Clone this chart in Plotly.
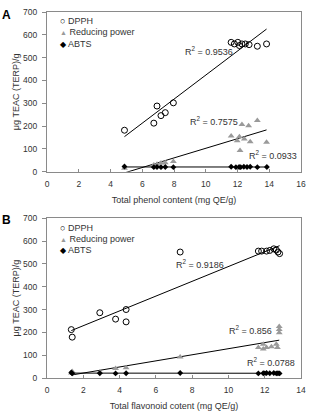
import numpy as np
import plotly.graph_objects as go

# ---------------- data ----------------
# Panel A: total phenol content (mg QE/g)
dpph_a_x = [4.88, 6.73, 6.93, 7.18, 7.45, 7.96, 11.6, 11.8, 12.02, 12.12, 12.28, 12.49, 12.73, 13.25, 13.83]
dpph_a_y = [182, 213, 288, 246, 259, 302, 567, 560, 567, 553, 560, 560, 557, 550, 560]
rp_a_x = [4.88, 6.73, 6.93, 7.18, 7.45, 7.96, 11.6, 11.98, 12.12, 12.16, 12.28, 12.43, 12.7, 12.8, 13.25, 13.83]
rp_a_y = [15, 30, 33, 38, 40, 45, 157, 136, 153, 93, 207, 143, 202, 131, 225, 129]
abts_a_x = [4.88, 6.73, 6.93, 7.18, 7.45, 7.96, 11.6, 11.9, 12.1, 12.2, 12.4, 12.6, 12.8, 13.25, 13.85]
abts_a_y = [23, 20, 21, 20, 21, 20, 22, 20, 21, 20, 22, 21, 22, 20, 21]
r2_a = ["0.9536", "0.7575", "0.0933"]

# Panel B: total flavonoid content (mg QE/g)
dpph_b_x = [1.34, 1.39, 2.91, 3.78, 4.36, 4.36, 7.34, 11.65, 11.83, 12.1, 12.28, 12.5, 12.64, 12.73, 12.82]
dpph_b_y = [212, 179, 286, 258, 300, 246, 552, 556, 556, 556, 559, 566, 561, 552, 545]
rp_b_x = [1.34, 1.39, 2.91, 3.78, 4.36, 7.34, 11.65, 11.92, 11.92, 12.1, 12.37, 12.64, 12.7, 12.8, 12.8, 12.8]
rp_b_y = [22, 28, 25, 42, 45, 92, 134, 148, 127, 134, 137, 148, 134, 226, 212, 198]
abts_b_x = [1.34, 1.39, 2.91, 3.78, 4.36, 7.34, 11.65, 11.92, 12.0, 12.1, 12.28, 12.5, 12.64, 12.73, 12.82]
abts_b_y = [24, 20, 21, 20, 21, 22, 20, 21, 20, 22, 21, 22, 20, 21, 20]
r2_b = ["0.9186", "0.856", "0.0788"]

series_names = ["DPPH", "Reducing power", "ABTS"]
x_title_a = "Total phenol content (mg QE/g)"
x_title_b = "Total flavonoid cotent (mg QE/g)"
y_title = "μg TEAC (TERP)/g"

# ---------------- styling ----------------
FONT = "Arial, Liberation Sans, sans-serif"
TXT = "#333333"
AX = "#8a8a8a"
styles = [
    dict(symbol="circle-open", color="black", size=6, line=dict(width=1, color="black")),
    dict(symbol="triangle-up", color="#9a9a9a", size=6),
    dict(symbol="diamond", color="black", size=4.5),
]

fig = go.Figure()

panels = [
    ("x", "y", [(dpph_a_x, dpph_a_y), (rp_a_x, rp_a_y), (abts_a_x, abts_a_y)]),
    ("x2", "y2", [(dpph_b_x, dpph_b_y), (rp_b_x, rp_b_y), (abts_b_x, abts_b_y)]),
]
for xa, ya, sers in panels:
    for (sx, sy), st, nm in zip(sers, styles, series_names):
        sx = np.array(sx, float)
        sy = np.array(sy, float)
        m, b = np.polyfit(sx, sy, 1)
        lx = np.array([sx.min(), sx.max()])
        fig.add_trace(go.Scatter(x=lx, y=m * lx + b, mode="lines",
                                 line=dict(color="black", width=1),
                                 xaxis=xa, yaxis=ya, showlegend=False, hoverinfo="skip"))
        fig.add_trace(go.Scatter(x=sx, y=sy, mode="markers", marker=st, name=nm,
                                 xaxis=xa, yaxis=ya, showlegend=False))

def ax_common():
    return dict(showline=True, linecolor=AX, linewidth=1, mirror=True,
                showgrid=False, zeroline=False,
                tickfont=dict(family=FONT, size=8.5, color=TXT),
                tickcolor=AX)

fig.update_layout(
    width=313, height=417,
    margin=dict(l=47, r=7, t=7, b=32),
    paper_bgcolor="white", plot_bgcolor="white",
    showlegend=False,
    font=dict(family=FONT, size=9, color=TXT),
    xaxis=dict(**ax_common(), domain=[0, 1], anchor="y", range=[0, 16], dtick=2,
               ticks="inside", ticklen=3, ticklabelstandoff=4,
               title=dict(text=x_title_a, font=dict(size=9, color=TXT), standoff=8)),
    yaxis=dict(**ax_common(), domain=[0.5635, 1], anchor="x", range=[0, 700], dtick=100,
               ticks="outside", ticklen=4, ticklabelstandoff=3,
               title=dict(text=y_title, font=dict(size=9, color=TXT), standoff=1)),
    xaxis2=dict(**ax_common(), domain=[0, 1], anchor="y2", range=[0, 14], dtick=2,
                ticks="inside", ticklen=3, ticklabelstandoff=4,
                title=dict(text=x_title_b, font=dict(size=9, color=TXT), standoff=8)),
    yaxis2=dict(**ax_common(), domain=[0, 0.4365], anchor="x2", range=[0, 700], dtick=100,
                ticks="outside", ticklen=4, ticklabelstandoff=3,
                title=dict(text=y_title, font=dict(size=9, color=TXT), standoff=1)),
)

ann = []
# panel letters
ann.append(dict(text="<b>A</b>", xref="paper", yref="paper", x=-0.16, y=0.992,
                xanchor="center", yanchor="middle", showarrow=False,
                font=dict(family=FONT, size=12, color="black")))
ann.append(dict(text="<b>B</b>", xref="paper", yref="paper", x=-0.16, y=0.431,
                xanchor="center", yanchor="middle", showarrow=False,
                font=dict(family=FONT, size=12, color="black")))

# legends (drawn as text)
leg_syms = ['<span style="color:black">○</span>',
            '<span style="color:#9a9a9a;font-size:7px">▲</span>',
            '<span style="color:black;font-size:8px">◆</span>']
for ys in ([0.976, 0.944, 0.913], [0.410, 0.381, 0.349]):
    for sym, nm, yy in zip(leg_syms, series_names, ys):
        ann.append(dict(text=sym + " " + nm, xref="paper", yref="paper", x=0.045, y=yy,
                        xanchor="left", yanchor="middle", showarrow=False,
                        font=dict(family=FONT, size=9, color=TXT)))

# R² labels
r2_pos_a = [(10.2, 530), (10.5, 221), (14.26, 72)]
r2_pos_b = [(8.45, 500), (11.23, 212), (12.37, 72)]
for xa, ya, labels, pos in (("x", "y", r2_a, r2_pos_a), ("x2", "y2", r2_b, r2_pos_b)):
    for lab, (px, py) in zip(labels, pos):
        ann.append(dict(text="R<sup>2</sup> = " + lab, xref=xa, yref=ya, x=px, y=py,
                        xanchor="center", yanchor="middle", showarrow=False,
                        font=dict(family=FONT, size=9, color=TXT)))

fig.update_layout(annotations=ann)
fig.write_html("out.html")
